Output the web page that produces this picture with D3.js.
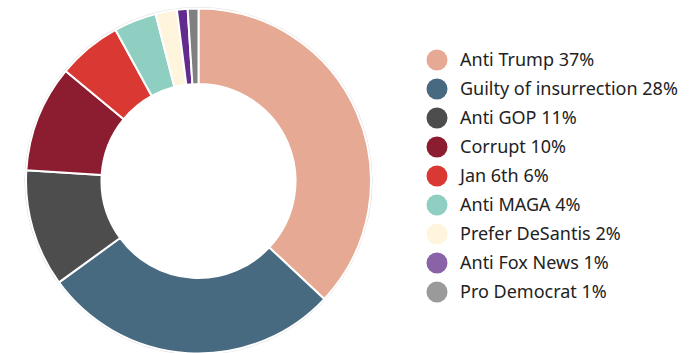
<!DOCTYPE html>
<html>
<head>
<meta charset="utf-8">
<script src="https://cdn.jsdelivr.net/npm/d3@7"></script>
<style>
  html, body { margin: 0; padding: 0; background: #fff; }
  svg { display: block; }
</style>
</head>
<body>
<svg id="chart" width="700" height="353"></svg>
<script>
const categories = ["Anti Trump", "Guilty of insurrection", "Anti GOP", "Corrupt", "Jan 6th",
  "Anti MAGA", "Prefer DeSantis", "Anti Fox News", "Pro Democrat"];
const values = [37, 28, 11, 10, 6, 4, 2, 1, 1];
const sliceColors = ["#e6aa94", "#486a80", "#4d4d4d", "#8c1d30", "#da3832",
  "#8fcfc2", "#fff5dc", "#632b8e", "#7f7f7f"];
const legendColors = ["#e6aa94", "#486a80", "#4d4d4d", "#8c1d30", "#da3832",
  "#8fcfc2", "#fff5dc", "#8a62a8", "#9a9a9a"];

const data = categories.map((c, i) => ({ category: c, value: values[i], i }));

const svg = d3.select("#chart");
const cx = 198.5, cy = 181, outerR = 172.5, innerR = 97;

const pie = d3.pie().value(d => d.value).sort(null);
const arc = d3.arc().innerRadius(innerR).outerRadius(outerR);

const g = svg.append("g").attr("transform", `translate(${cx},${cy})`);

// faint rim around the ring
g.append("circle")
  .attr("r", outerR + 1)
  .attr("fill", "none")
  .attr("stroke", "#d8d8d8")
  .attr("stroke-width", 1);

g.selectAll("path.slice")
  .data(pie(data))
  .join("path")
  .attr("class", "slice")
  .attr("d", arc)
  .attr("fill", d => sliceColors[d.data.i])
  .attr("stroke", "#fff")
  .attr("stroke-width", 2)
  .attr("stroke-linejoin", "round");

// legend
const legend = svg.append("g").attr("transform", "translate(437,60)");
const rowH = 29;
const rows = legend.selectAll("g.row")
  .data(data)
  .join("g")
  .attr("class", "row")
  .attr("transform", d => `translate(0,${d.i * rowH})`);

rows.append("circle")
  .attr("r", 10.5)
  .attr("fill", d => legendColors[d.i]);

rows.append("text")
  .attr("x", 23)
  .attr("y", 0)
  .attr("dy", "0.36em")
  .attr("font-family", "'Noto Sans', sans-serif")
  .attr("font-size", 18)
  .attr("fill", "#222")
  .text(d => `${d.category} ${d.value}%`);
</script>
</body>
</html>
